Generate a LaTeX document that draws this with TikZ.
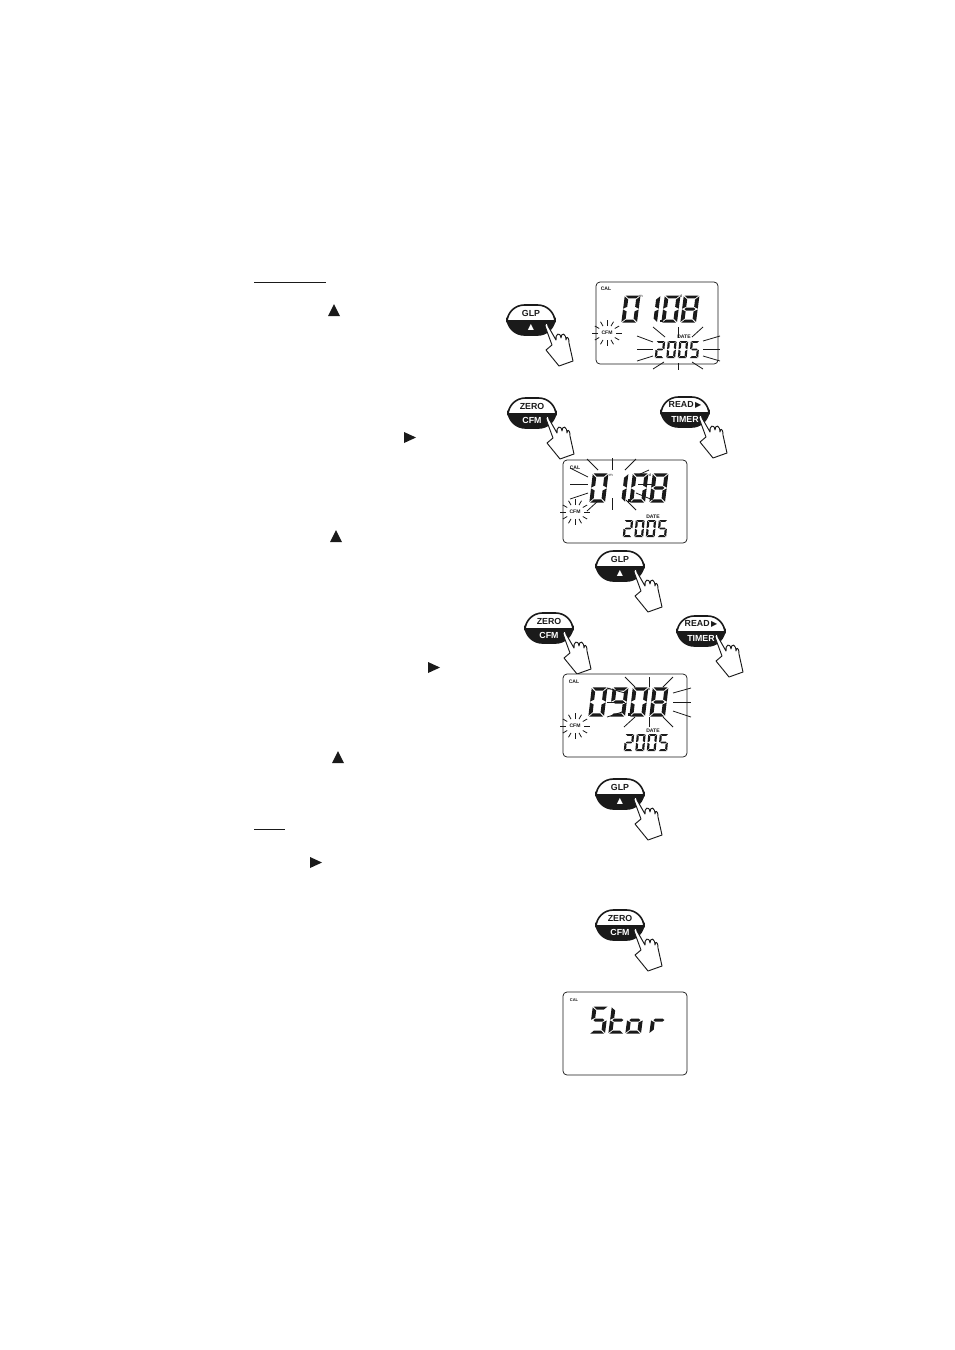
\documentclass[tikz,border=0pt]{standalone}
\usepackage{fontspec}
\setmainfont{Liberation Sans}
\newfontfamily\symfont{DejaVu Sans}
\usepackage{xcolor}
\usetikzlibrary{calc}
\definecolor{inkblack}{HTML}{1A1A1A}
\tikzset{
    rayline/.style={inkblack, line width=0.6pt},
    panel/.style={inkblack, line width=0.55pt, rounded corners=3pt, fill=white},
    lcdseg/.style={fill=inkblack},
    keytext/.style={inkblack, inner sep=0pt, font=\bfseries\fontsize{6.6}{7}\selectfont},
    lcdtext/.style={inkblack, inner sep=0pt, font=\bfseries\fontsize{3.8}{4}\selectfont},
    handline/.style={inkblack, line width=0.7pt, fill=white, line join=round}
}
% segments of one lcd digit
\newcommand{\lcdA}{\fill[lcdseg] (-0.5,-1.6) -- (14.5,-1.6) -- (11,1.6) -- (3,1.6) -- cycle;}
\newcommand{\lcdB}{\fill[lcdseg] (15.5,-0.8) -- (15.5,12.6) -- (11.3,10.5) -- (11.3,2.8) -- cycle;}
\newcommand{\lcdC}{\fill[lcdseg] (15.5,13.4) -- (15.5,26.8) -- (11.3,23.2) -- (11.3,15.5) -- cycle;}
\newcommand{\lcdD}{\fill[lcdseg] (-0.5,27.6) -- (14.5,27.6) -- (11,24.4) -- (3,24.4) -- cycle;}
\newcommand{\lcdE}{\fill[lcdseg] (-1.5,13.4) -- (-1.5,26.8) -- (2.7,23.2) -- (2.7,15.5) -- cycle;}
\newcommand{\lcdF}{\fill[lcdseg] (-1.5,-0.8) -- (-1.5,12.6) -- (2.7,10.5) -- (2.7,2.8) -- cycle;}
\newcommand{\lcdG}{\fill[lcdseg] (1,13) -- (3,11.4) -- (11,11.4) -- (13,13) -- (11,14.6) -- (3,14.6) -- cycle;}
\newcommand{\digzero}{\lcdA\lcdB\lcdC\lcdD\lcdE\lcdF}
\newcommand{\digone}{\lcdB\lcdC}
\newcommand{\digtwo}{\lcdA\lcdB\lcdG\lcdE\lcdD}
\newcommand{\digfive}{\lcdA\lcdF\lcdG\lcdC\lcdD}
\newcommand{\digeight}{\lcdA\lcdB\lcdC\lcdD\lcdE\lcdF\lcdG}
\newcommand{\dignine}{\lcdA\lcdB\lcdC\lcdD\lcdF\lcdG}
% big digit: x, y, yscale, segments
\newcommand{\bigdigit}[4]{\begin{scope}[shift={(#1,#2)}, xscale=0.92, yscale=#3, xslant=0.13]#4\end{scope}}
% the year in small digits: x, y
\newcommand{\yeardigits}[2]{
    \foreach \dx/\dg in {0/\digtwo,11.5/\digzero,23/\digzero,34.5/\digfive} {
        \begin{scope}[shift={(#1+\dx,#2)}, xscale=0.52, yscale=0.58, xslant=0.1]\dg\end{scope}
    }
}
% key with pressing hand: name, x, y, upper label, lower label
\newcommand{\keybutton}[5]{
    \begin{scope}[shift={(#2,#3)}]
        \draw[inkblack, line width=1.2pt, fill=white, rounded corners=13pt] (-24,-15) rectangle (24,15);
        \begin{scope}
            \clip (-25,0) rectangle (25,16);
            \fill[inkblack, rounded corners=13pt] (-24,-15) rectangle (24,15);
        \end{scope}
        \node[keytext] (#1top) at (0,-7) {#4};
        \node[keytext, text=white] (#1bot) at (0,7) {#5};
        \draw[handline] (14,6) .. controls (14,2) and (17,2) .. (17,6) -- (25,20)
            .. controls (24,14) and (29,11) .. (30,18) .. controls (30,12) and (35,13) .. (35,20)
            .. controls (35,16) and (38,16) .. (38,23) -- (42,41) -- (28,46) -- (15,30) -- (21,25) -- cycle;
    \end{scope}
}
% blinking mark around the cfm label: x, y
\newcommand{\cfmblink}[2]{
    \foreach \a/\ra/\rb in {0/9/15,30/9/14,60/8/13,90/7/13,120/8/13,150/9/14,180/9/15,210/9/14,240/8/13,270/7/13,300/8/13,330/9/14} {
        \draw[rayline] ($(#1,#2)+(\a:\ra)$) -- ($(#1,#2)+(\a:\rb)$);
    }
}
\begin{document}
\begin{tikzpicture}[x=0.75pt, y=-0.75pt]
    \useasboundingbox (0,0) rectangle (954,1350);
    \fill[white] (0,0) rectangle (954,1350);
    % headings
    \draw[inkblack, line width=0.7pt] (254,282) -- (326,282);
    \draw[inkblack, line width=0.7pt] (254,829) -- (285,829);
    % arrows in the running text
    \foreach \x/\y in {334/304,336/530,338/751} {
        \fill[inkblack] (\x-6,\y+12) -- (\x,\y) -- (\x+6,\y+12) -- cycle;
    }
    \foreach \x/\y in {404/432,428/662,310/857} {
        \fill[inkblack] (\x,\y) -- (\x+12,\y+5.5) -- (\x,\y+11) -- cycle;
    }
    % keys
    \keybutton{glpa}{531}{320}{GLP}{{\symfont\fontsize{6}{7}\selectfont ▲}}
    \keybutton{zeroa}{532}{413}{ZERO}{CFM}
    \keybutton{reada}{685}{412}{READ\,{\symfont\fontsize{6}{7}\selectfont ▶}}{TIMER}
    \keybutton{glpb}{620}{566}{GLP}{{\symfont\fontsize{6}{7}\selectfont ▲}}
    \keybutton{zerob}{549}{628}{ZERO}{CFM}
    \keybutton{readb}{701}{631}{READ\,{\symfont\fontsize{6}{7}\selectfont ▶}}{TIMER}
    \keybutton{glpc}{620}{794}{GLP}{{\symfont\fontsize{6}{7}\selectfont ▲}}
    \keybutton{zeroc}{620}{925}{ZERO}{CFM}
    % first display
    \draw[panel] (596,282) rectangle (718,364);
    \node[lcdtext] (cala) at (606,289) {CAL};
    \node[lcdtext, font=\fontsize{3}{4}\selectfont] (mona) at (641,296) {m};
    \node[lcdtext, font=\fontsize{3}{4}\selectfont] (daya) at (681,296) {d};
    \bigdigit{626}{297}{0.93}{\digzero}
    \bigdigit{646}{297}{0.93}{\digone}
    \fill[inkblack] (660,319.5) rectangle (662.5,322);
    \bigdigit{666}{297}{0.93}{\digzero}
    \bigdigit{685}{297}{0.93}{\digeight}
    \node[lcdtext] (datea) at (684,337) {DATE};
    \yeardigits{657}{342}
    \node[lcdtext] (cfma) at (607,333) {CFM};
    \cfmblink{607}{333}
    \foreach \xa/\ya/\xb/\yb in {678/327/678/338,653/327/665/337,703/327/692/337,637/336/653/342,637/349/653/349,637/361/653/356,703/341/720/336,703/349/720/349,703/356/720/361,653/369/664/362,678/363/678/370,692/362/703/369} {
        \draw[rayline] (\xa,\ya) -- (\xb,\yb);
    }
    % second display
    \draw[panel] (563,460) rectangle (687,543);
    \node[lcdtext] (calb) at (575,468) {CAL};
    \node[lcdtext, font=\fontsize{3}{4}\selectfont] (monb) at (611,475) {m};
    \node[lcdtext, font=\fontsize{3}{4}\selectfont] (dayb) at (650,475) {d};
    \bigdigit{594}{475}{1}{\digzero}
    \bigdigit{614}{475}{1}{\digone}
    \fill[inkblack] (628,499) rectangle (630.5,501.5);
    \bigdigit{634}{475}{1}{\digzero}
    \bigdigit{654}{475}{1}{\digeight}
    \node[lcdtext] (dateb) at (653,517) {DATE};
    \yeardigits{625}{521}
    \node[lcdtext] (cfmb) at (575,512) {CFM};
    \cfmblink{575}{512}
    \foreach \xa/\ya/\xb/\yb in {612/458/612/470,587/459/598/470,636/459/625/470,570/468/588/477,570/484/588/484,570/499/588/493,638/475/649/470,638/484/653/484,636/493/653/500,587/511/598/501,612/498/612/510,626/500/636/510} {
        \draw[rayline] (\xa,\ya) -- (\xb,\yb);
    }
    % third display
    \draw[panel] (563,674) rectangle (687,757);
    \node[lcdtext] (calc) at (574,682) {CAL};
    \node[lcdtext, font=\fontsize{3}{4}\selectfont] (monc) at (609,689) {m};
    \node[lcdtext, font=\fontsize{3}{4}\selectfont] (dayc) at (649,689) {d};
    \bigdigit{593}{689}{1}{\digzero}
    \bigdigit{614}{689}{1}{\dignine}
    \fill[inkblack] (628,713) rectangle (630.5,715.5);
    \bigdigit{634}{689}{1}{\digzero}
    \bigdigit{654}{689}{1}{\digeight}
    \node[lcdtext] (datec) at (653,731) {DATE};
    \yeardigits{626}{735}
    \node[lcdtext] (cfmc) at (575,726) {CFM};
    \cfmblink{575}{726}
    \foreach \xa/\ya/\xb/\yb in {649/677/649/687,625/677/635/687,673/677/663/687,673/693/691/688,673/702/691/702,673/711/691/717,607/688/625/693,607/702/625/702,607/717/625/711,624/727/635/717,649/717/649/727,663/717/673/727} {
        \draw[rayline] (\xa,\ya) -- (\xb,\yb);
    }
    % last display
    \draw[panel] (563,992) rectangle (687,1075);
    \node[lcdtext, font=\bfseries\fontsize{3}{4}\selectfont] (cald) at (574,1000) {CAL};
    \bigdigit{594}{1008}{0.93}{\digfive}
    \bigdigit{613}{1008}{0.93}{\lcdF\lcdE\lcdG\lcdD}
    \bigdigit{630}{1008}{0.93}{\lcdG\lcdC\lcdD\lcdE}
    \bigdigit{654}{1008}{0.93}{\lcdG\lcdE}
\end{tikzpicture}
\end{document}
